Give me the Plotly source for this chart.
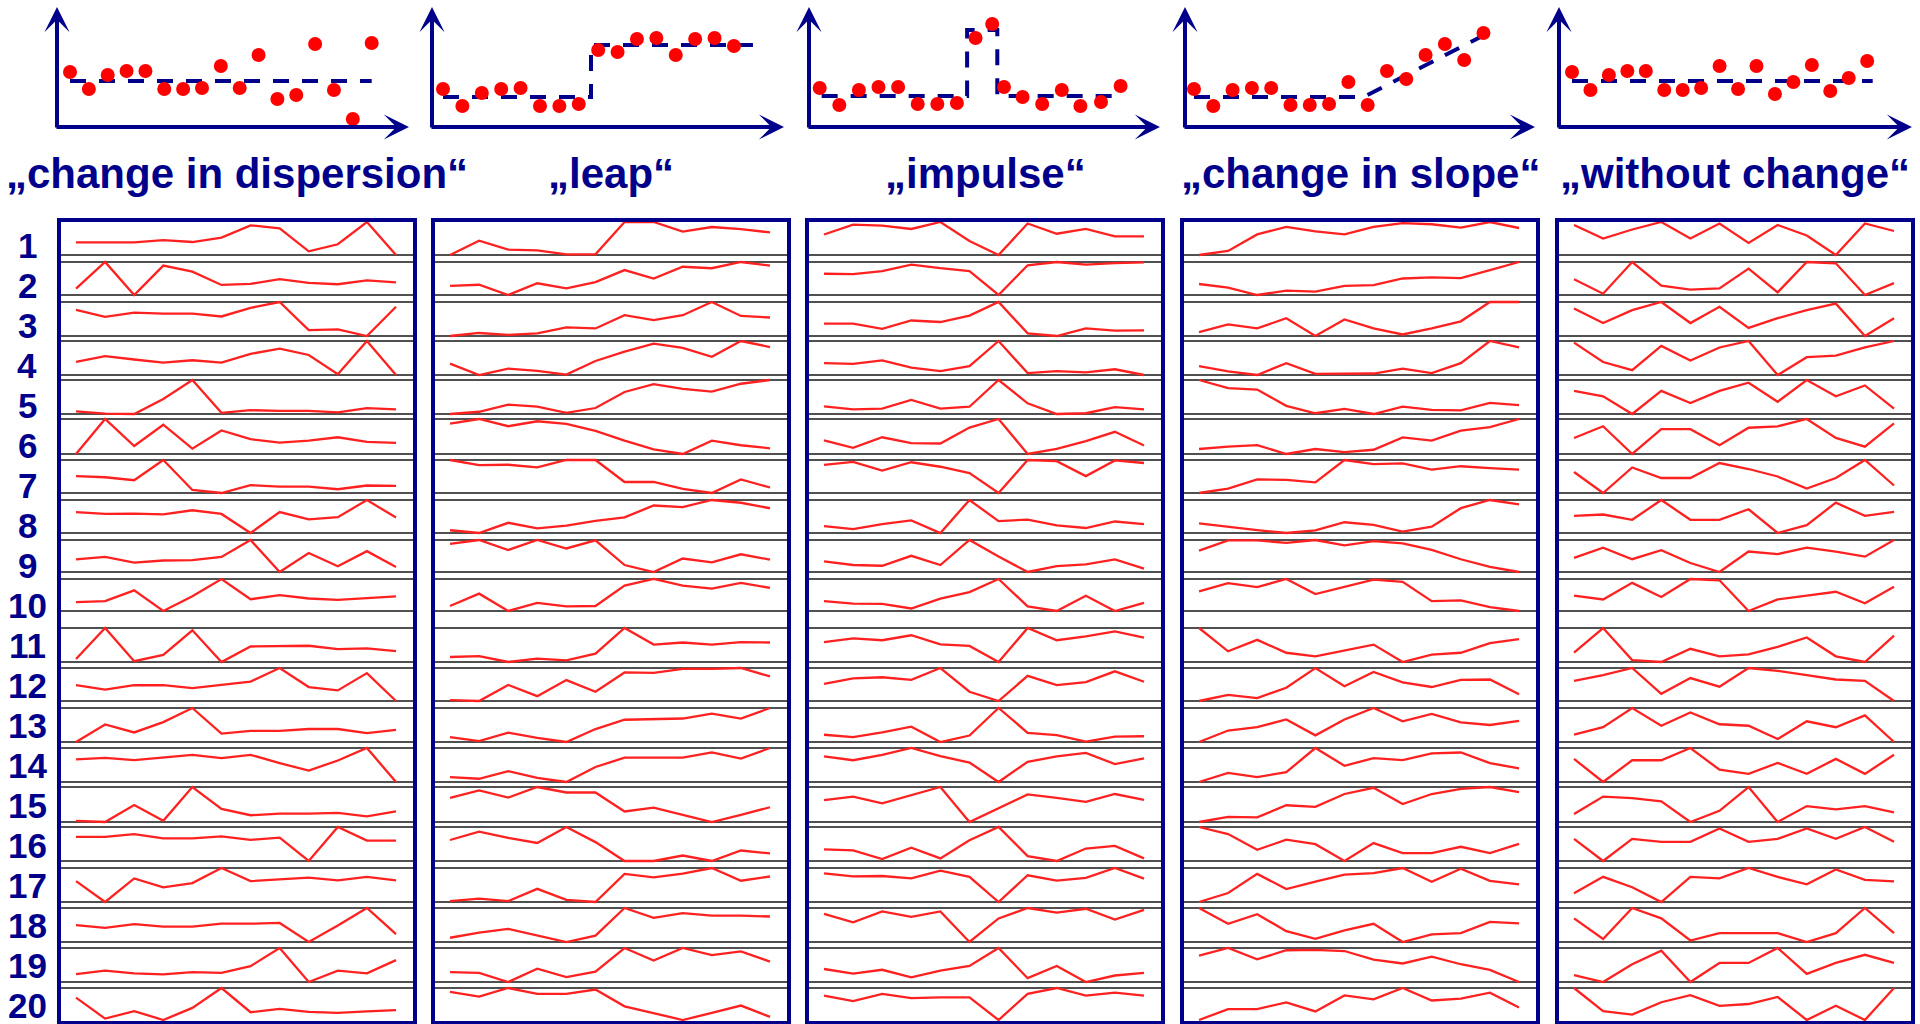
import plotly.graph_objects as go

NAVY = "#00008B"
RED = "#FF0000"
LINE_RED = "#FF2020"
GRAY = "#505050"
FONT = "Liberation Sans"

titles = ["„change in dispersion“", "„leap“", "„impulse“", "„change in slope“", "„without change“"]
row_labels = [str(i) for i in range(1, 21)]
sample_index = list(range(12))

# ---- sparkline series (20 rows x 12 samples per column) ----
disp = [
    [37,37,37,43,38,50,83,75,13,32,92,3],
    [23,97,5,87,70,33,36,49,39,35,46,40],
    [78,60,71,68,68,61,83,98,26,28,11,86],
    [42,57,48,40,46,40,63,77,60,9,97,7],
    [16,10,9,48,97,12,19,17,17,13,24,21],
    [7,99,28,84,21,69,46,37,42,51,39,36],
    [50,47,39,93,13,5,26,22,22,15,25,24],
    [63,58,59,57,68,58,6,63,43,49,96,48],
    [40,47,31,37,38,47,94,5,58,21,63,19],
    [29,32,61,5,45,92,37,48,39,35,40,45],
    [16,98,10,27,92,8,49,49,51,42,44,37],
    [48,36,48,48,40,48,58,95,43,34,81,5],
    [8,54,33,60,97,30,37,37,42,42,31,40],
    [68,72,66,73,80,71,80,58,38,65,98,8],
    [10,7,52,10,100,42,25,29,29,31,22,35],
    [70,70,77,66,66,71,62,68,6,96,60,60],
    [63,9,70,47,58,97,63,67,72,65,74,65],
    [52,45,55,48,48,56,56,58,7,51,98,28],
    [28,37,30,27,33,31,49,97,7,37,30,65],
    [66,7,28,3,37,93,25,34,26,23,27,31],
]
leap = [
    [5,45,20,18,7,7,97,97,70,83,77,68],
    [28,31,3,35,21,38,71,48,80,76,93,83],
    [10,18,13,17,33,30,65,52,65,100,63,59],
    [38,8,25,19,9,45,70,91,80,56,98,82],
    [8,14,33,28,11,24,67,88,75,68,89,99],
    [87,99,80,93,86,68,42,19,7,42,30,22],
    [98,84,85,78,98,98,38,38,19,8,45,23],
    [12,5,31,17,24,36,45,75,71,89,82,68],
    [77,87,61,87,65,86,22,4,39,29,50,36],
    [17,49,4,25,16,17,70,87,70,62,77,64],
    [17,19,5,13,9,25,87,47,52,47,53,52],
    [7,5,45,17,57,28,76,75,85,85,87,66],
    [22,12,33,20,10,42,65,66,68,80,68,94],
    [22,18,37,20,10,47,70,70,70,83,68,94],
    [67,85,68,93,80,80,35,44,27,10,27,45],
    [59,79,64,52,90,54,9,9,22,9,34,27],
    [9,15,9,38,12,7,73,65,74,87,57,67],
    [17,29,38,22,7,22,87,64,75,69,69,67],
    [29,27,5,37,17,30,87,57,87,70,79,54],
    [77,65,87,72,72,83,40,23,5,23,42,13],
]
impulse = [
    [60,87,84,75,94,42,4,90,62,75,55,55],
    [62,61,69,87,77,69,4,85,94,87,91,93],
    [41,41,27,49,45,62,98,15,8,28,22,23],
    [38,36,45,26,17,30,96,12,17,14,22,7],
    [28,20,22,45,22,27,97,36,8,10,26,20],
    [42,23,50,35,34,75,97,7,20,40,64,29],
    [82,90,67,89,77,60,7,95,92,52,94,87],
    [25,17,30,40,7,93,38,42,27,20,37,30],
    [37,27,25,52,27,95,50,8,24,29,42,17],
    [33,26,25,12,40,58,95,18,5,48,5,28],
    [57,67,62,75,51,47,5,94,62,72,85,69],
    [51,66,69,62,94,30,5,73,48,56,85,57],
    [28,22,34,49,9,26,98,33,27,10,23,24],
    [75,65,79,97,76,59,8,61,75,84,55,70],
    [64,73,56,77,98,8,44,79,70,60,80,65],
    [38,35,12,42,14,62,97,20,7,40,47,14],
    [84,76,77,71,91,75,9,79,65,72,98,70],
    [80,58,86,72,86,7,68,95,83,93,65,90],
    [40,28,38,18,36,48,95,16,48,6,23,30],
    [75,60,80,68,70,70,8,80,96,75,83,75],
]
slope = [
    [3,14,58,78,66,58,78,88,85,76,91,75],
    [35,25,5,17,14,30,32,50,53,51,73,95],
    [20,40,30,56,10,53,30,14,30,48,98,98],
    [32,18,8,40,11,12,12,25,13,40,100,83],
    [100,78,74,30,10,22,8,28,19,18,38,32],
    [20,26,30,7,20,12,18,50,42,68,77,98],
    [5,17,42,41,34,95,84,86,69,78,73,69],
    [32,22,14,6,13,35,28,10,23,73,95,83],
    [65,93,93,86,94,79,91,85,67,41,20,6],
    [60,83,72,95,52,73,93,87,32,34,15,4],
    [95,32,63,28,18,33,50,3,23,28,54,65],
    [3,20,11,40,95,44,84,55,42,62,63,22],
    [9,40,49,70,27,70,101,65,85,62,55,66],
    [9,33,22,35,99,52,72,67,85,87,59,45],
    [10,23,22,53,49,82,98,56,82,95,100,87],
    [100,81,39,66,54,9,57,30,30,47,30,55],
    [7,30,79,40,59,77,81,94,59,92,61,52],
    [95,54,79,35,15,37,54,7,27,30,59,55],
    [75,95,65,89,90,87,64,54,72,52,37,5],
    [7,35,35,52,29,70,60,89,57,62,77,39],
]
nochange = [
    [24,15,21,26,15,25,12,24,17,4,25,20],
    [15,4,28,10,7,8,23,5,28,27,3,12],
    [25,16,24,29,16,26,13,19,24,28,8,19],
    [26,14,9,24,15,23,27,6,17,18,23,27],
    [20,16,3,20,11,20,26,12,28,16,24,7],
    [15,23,4,21,21,10,22,23,28,15,9,25],
    [19,5,22,15,15,25,21,16,8,15,27,10],
    [16,17,13,28,13,13,21,3,9,26,16,19],
    [13,21,12,19,9,2,18,16,21,18,14,27],
    [15,12,25,14,28,27,3,12,15,18,9,22],
    [13,26,9,8,15,11,12,16,21,11,8,22],
    [17,21,26,8,19,13,26,24,21,18,17,3],
    [8,13,26,14,23,15,14,5,17,13,21,3],
    [19,2,18,18,27,11,8,16,8,19,8,22],
    [9,20,19,17,4,11,26,4,14,12,14,10],
    [15,0,15,13,13,22,13,15,22,15,23,13],
    [7,18,11,1,18,17,24,18,13,23,16,15],
    [16,2,23,16,1,6,6,6,0,6,23,6],
    [6,1,14,24,1,15,15,26,7,15,21,15],
    [23,10,8,15,19,13,14,18,5,13,5,23],
]
series_by_column = [disp, leap, impulse, slope, nochange]

# ---- schematic (top) panels: sample positions, values, model lines ----
disp_top_x = list(range(1, 18))
disp_top_y = [55,38,52,56,56,38,38,39,61,39,72,28,32,83,37,8,84]
disp_model_x = [1, 17]
disp_model_y = [46, 46]

leap_top_x = list(range(1, 17))
leap_top_y = [38,21,34,38,39,21,21,23,77,75,88,89,72,88,89,81]
leap_model_x = [1, 8.63, 8.63, 16.98]
leap_model_y = [30, 30, 82, 82]

impulse_top_x = [1,2,3,4,5,6,7,8,8.95,9.8,10.4,11.35,12.35,13.35,14.3,15.35,16.35]
impulse_top_y = [39,22,37,40,40,23,23,24,89,103,40,30,23,37,21,25,41]
impulse_model_x = [1.1, 8.52, 8.52, 10.06, 10.06, 15.9]
impulse_model_y = [31, 31, 97, 97, 31, 31]

slope_top_x = list(range(1, 17))
slope_top_y = [38,21,37,39,39,22,22,23,45,22,56,48,72,83,67,94]
slope_model_x = [1, 9.8, 16.65]
slope_model_y = [30, 30, 98]

nochange_top_x = list(range(1, 18))
nochange_top_y = [55,37,52,56,56,37,37,39,61,38,61,33,45,62,36,49,66]
nochange_model_x = [1, 17.3]
nochange_model_y = [46, 46]

top_x = [disp_top_x, leap_top_x, impulse_top_x, slope_top_x, nochange_top_x]
top_y = [disp_top_y, leap_top_y, impulse_top_y, slope_top_y, nochange_top_y]
model_x = [disp_model_x, leap_model_x, impulse_model_x, slope_model_x, nochange_model_x]
model_y = [disp_model_y, leap_model_y, impulse_model_y, slope_model_y, nochange_model_y]

# ---- layout geometry (pixels of the 1920x1024 canvas) ----
W, H = 1920, 1024
box_left = [61, 435, 809, 1184, 1559]
BOX_W = 352
BOX_TOP, BOX_BOT = 222, 1021
band_top = [222, 262, 302, 341, 380, 419, 460, 500, 540, 579, 628, 668, 708, 748, 787, 827, 868, 908, 948, 988]
band_bot = [255, 295, 336, 375, 414, 454, 493, 533, 572, 611, 662, 701, 742, 782, 822, 861, 902, 942, 982, 1020]

top_origin_x = [57, 432, 809, 1185, 1559]
top_tip_x = [409, 784, 1160, 1535, 1912]
TOP_AXIS_Y, TOP_TIP_Y = 127, 7
top_range_x = [(0.31, 18.98), (0.433, 18.58), (0.454, 18.36), (0.534, 18.67), (0.295, 19.43)]


def fx(p):
    return p / W


def fy(p):
    return 1 - p / H


fig = go.Figure()
shapes = []
annotations = []
layout_axes = {}

for c in range(5):
    k = c + 1
    xname = "x" if k == 1 else f"x{k}"
    yname = "y" if k == 1 else f"y{k}"
    layout_axes["xaxis" if k == 1 else f"xaxis{k}"] = dict(
        domain=[fx(box_left[c]), fx(box_left[c] + BOX_W)], range=[-0.516, 11.584],
        showline=True, mirror=True, linecolor=NAVY, linewidth=4,
        showgrid=False, zeroline=False, showticklabels=False, ticks="", anchor=yname)
    layout_axes["yaxis" if k == 1 else f"yaxis{k}"] = dict(
        domain=[fy(BOX_BOT), fy(BOX_TOP)], range=[BOX_BOT, BOX_TOP],
        showline=True, mirror=True, linecolor=NAVY, linewidth=4,
        showgrid=False, zeroline=False, showticklabels=False, ticks="", anchor=xname)
    # separator double lines
    for r in range(20):
        lines_y = []
        if r > 0:
            lines_y.append(band_top[r])
        if r < 19:
            lines_y.append(band_bot[r])
        for ly in lines_y:
            shapes.append(dict(type="line", xref=f"{xname} domain", yref=yname,
                               x0=0, x1=1, y0=ly, y1=ly, layer="below",
                               line=dict(color=GRAY, width=2)))
    for r in range(20):
        vals = series_by_column[c][r]
        lo, hi = min(vals), max(vals)
        ys = [band_bot[r] - (v - lo) / (hi - lo) * (band_bot[r] - band_top[r]) for v in vals]
        fig.add_trace(go.Scatter(x=sample_index, y=ys, mode="lines",
                                 line=dict(color=LINE_RED, width=2.3),
                                 xaxis=xname, yaxis=yname, hoverinfo="skip", showlegend=False))

    # top schematic panel
    k2 = c + 6
    xn2, yn2 = f"x{k2}", f"y{k2}"
    x0, x1 = top_range_x[c]
    layout_axes[f"xaxis{k2}"] = dict(domain=[fx(top_origin_x[c]), fx(top_tip_x[c])],
                                     range=[x0, x1], visible=False, anchor=yn2)
    layout_axes[f"yaxis{k2}"] = dict(domain=[fy(TOP_AXIS_Y), fy(TOP_TIP_Y)],
                                     range=[0, 120], visible=False, anchor=xn2)
    fig.add_trace(go.Scatter(x=model_x[c], y=model_y[c], mode="lines",
                             line=dict(color=NAVY, width=4, dash="16px,13px"),
                             xaxis=xn2, yaxis=yn2, hoverinfo="skip", showlegend=False))
    fig.add_trace(go.Scatter(x=top_x[c], y=top_y[c], mode="markers",
                             marker=dict(color=RED, size=14, line=dict(width=0)),
                             xaxis=xn2, yaxis=yn2, hoverinfo="skip", showlegend=False,
                             cliponaxis=False))
    unit = (x1 - x0) / (top_tip_x[c] - top_origin_x[c])
    annotations.append(dict(x=x1, y=0, ax=x0 - 2 * unit, ay=0, xref=xn2, yref=yn2,
                            axref=xn2, ayref=yn2, text="", showarrow=True, arrowhead=3,
                            arrowsize=1.05, arrowwidth=4, arrowcolor=NAVY, standoff=0))
    annotations.append(dict(x=x0, y=120, ax=x0, ay=-2, xref=xn2, yref=yn2,
                            axref=xn2, ayref=yn2, text="", showarrow=True, arrowhead=3,
                            arrowsize=1.05, arrowwidth=4, arrowcolor=NAVY, standoff=0))
    annotations.append(dict(x=fx(box_left[c] + BOX_W / 2), y=fy(173), xref="paper", yref="paper",
                            text=titles[c], showarrow=False, xanchor="center", yanchor="middle",
                            font=dict(family=FONT, size=42, color=NAVY, weight="bold")))

for i, lab in enumerate(row_labels):
    annotations.append(dict(x=fx(27), y=fy(245 + 40.05 * i), xref="paper", yref="paper",
                            text=lab, showarrow=False, xanchor="center", yanchor="middle",
                            font=dict(family=FONT, size=35, color=NAVY, weight="bold")))

fig.update_layout(width=W, height=H, margin=dict(l=0, r=0, t=0, b=0),
                  paper_bgcolor="white", plot_bgcolor="white", showlegend=False,
                  shapes=shapes, annotations=annotations, **layout_axes)

fig.write_html("out.html", config={"displayModeBar": False},
               post_script="document.body.style.margin='0';document.body.style.overflow='hidden';")
